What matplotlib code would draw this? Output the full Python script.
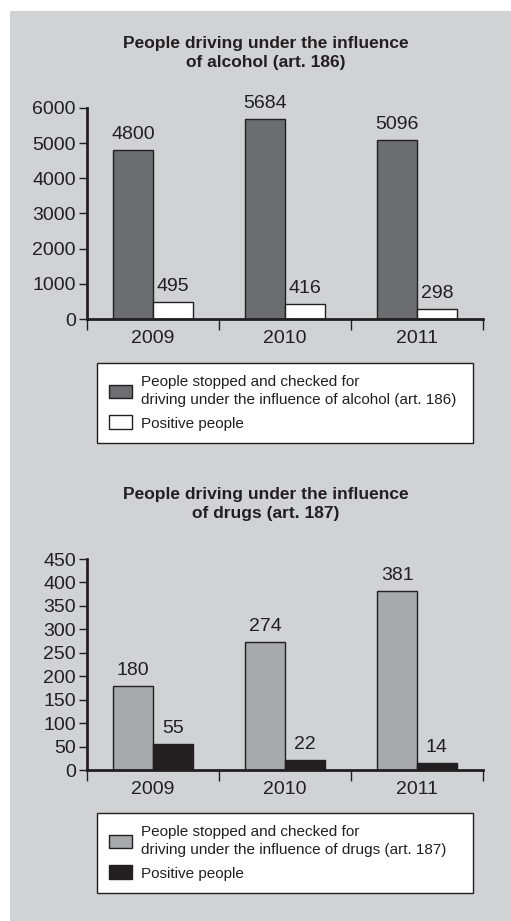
import matplotlib.pyplot as plt
import numpy as np
from matplotlib.patches import Rectangle, Patch

plt.rcParams['font.family'] = ['Liberation Sans Narrow', 'Liberation Sans', 'DejaVu Sans']

# Dados
anos = ['2009', '2010', '2011']
alcool_checados = [4800, 5684, 5096]
alcool_positivos = [495, 416, 298]
drogas_checados = [180, 274, 381]
drogas_positivos = [55, 22, 14]

fundo_cor = '#d1d2d4'

fig = plt.figure(figsize=(5.11, 9.21), dpi=100, facecolor='white')
# painel cinza
fig.patches.append(Rectangle((10/511, 0), 1, 1 - 11/921, transform=fig.transFigure,
                             facecolor=fundo_cor, edgecolor='none', zorder=-10))


def grafico(rect, titulo, titulo_y, v1, v2, c1, c2, ymax, yticks, rotulo1, leg_rect):
    ax = fig.add_axes(rect)
    ax.set_facecolor('none')
    x = np.arange(len(anos)) + 0.5
    w = 0.3
    b1 = ax.bar(x - w/2, v1, w, color=c1, edgecolor='#231f20', linewidth=1)
    b2 = ax.bar(x + w/2, v2, w, color=c2, edgecolor='#231f20', linewidth=1)
    for barras, vals in ((b1, v1), (b2, v2)):
        for b, v in zip(barras, vals):
            ax.annotate(str(v), (b.get_x() + b.get_width()/2, v), xytext=(0, 5),
                        textcoords='offset points', ha='center', va='bottom',
                        fontsize=14, color='#231f20')
    ax.set_xlim(0, 3)
    ax.set_ylim(0, ymax)
    ax.set_yticks(yticks)
    ax.set_xticks(x)
    ax.set_xticklabels(anos)
    ax.set_xticks([0, 1, 2, 3], minor=True)
    ax.tick_params(axis='x', which='major', length=0, pad=8, labelsize=14, labelcolor='#231f20')
    ax.tick_params(axis='x', which='minor', length=8, width=1, color='#231f20')
    ax.tick_params(axis='y', length=6, width=1, pad=2, labelsize=14, labelcolor='#231f20', color='#231f20')
    for s in ['top', 'right']:
        ax.spines[s].set_visible(False)
    for s in ['left', 'bottom']:
        ax.spines[s].set_linewidth(2)
        ax.spines[s].set_color('#231f20')
    fig.text(0.52, titulo_y, titulo, ha='center', va='center', fontsize=12.5,
             fontweight='bold', color='#231f20', linespacing=1.3)
    handles = [Patch(facecolor=c1, edgecolor='#231f20', linewidth=1),
               Patch(facecolor=c2, edgecolor='#231f20', linewidth=1)]
    leg = fig.legend(handles, [rotulo1, 'Positive people'], loc='upper left',
                     bbox_to_anchor=leg_rect, bbox_transform=fig.transFigure,
                     mode='expand', fontsize=11, frameon=True, fancybox=False,
                     edgecolor='#231f20', framealpha=1, handlelength=1.5,
                     handleheight=1.0, handletextpad=0.6, labelspacing=0.55,
                     borderpad=0.8, borderaxespad=0)
    leg.get_frame().set_linewidth(1)
    for t in leg.get_texts():
        t.set_color('#231f20')
        t.set_linespacing(1.35)
    return ax


grafico([87/511, 1 - 319/921, 396/511, 211/921],
        'People driving under the influence\nof alcohol (art. 186)', 1 - 53/921,
        alcool_checados, alcool_positivos, '#6d6e71', 'white', 6000,
        [0, 1000, 2000, 3000, 4000, 5000, 6000],
        'People stopped and checked for\ndriving under the influence of alcohol (art. 186)',
        (97/511, 1 - 445/921, 376/511, 82/921))

grafico([87/511, 1 - 770/921, 396/511, 211/921],
        'People driving under the influence\nof drugs (art. 187)', 1 - 504/921,
        drogas_checados, drogas_positivos, '#a7a9ac', '#231f20', 450,
        list(range(0, 451, 50)),
        'People stopped and checked for\ndriving under the influence of drugs (art. 187)',
        (97/511, 1 - 893/921, 376/511, 80/921))

fig.savefig('out.png', dpi=100, facecolor='white')
